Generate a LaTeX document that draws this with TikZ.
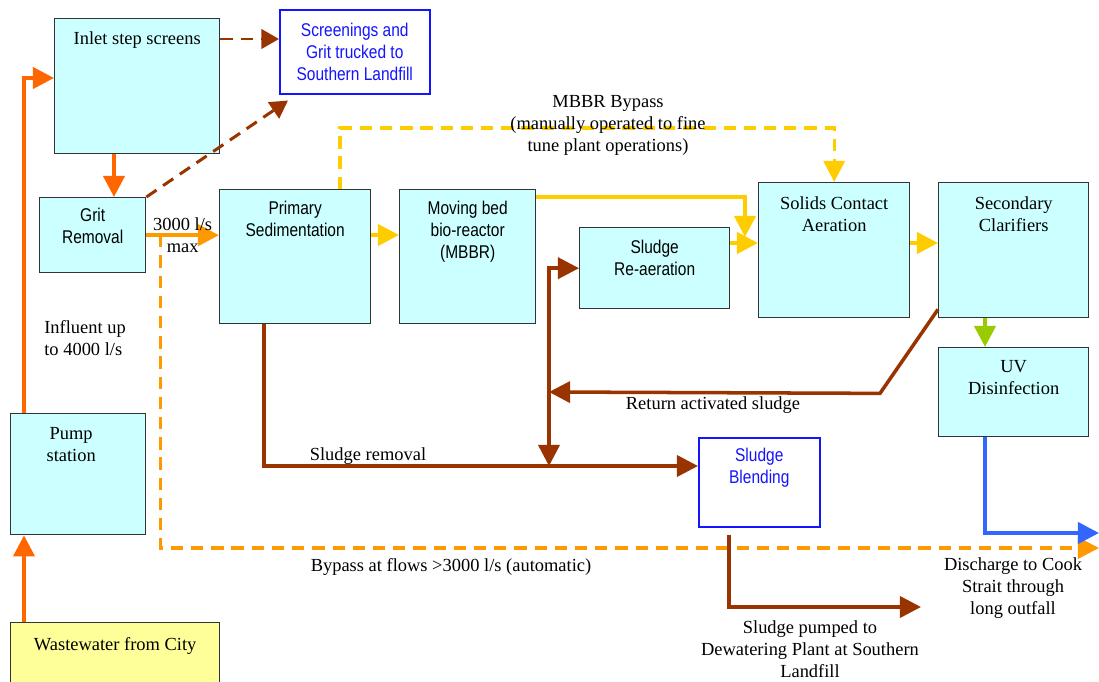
\documentclass[tikz,border=0pt]{standalone}
\usepackage{fontspec}
\setmainfont{Liberation Serif}
\newfontfamily\narrowsf[FakeStretch=0.84]{Liberation Sans}
\usetikzlibrary{arrows.meta, positioning, calc}
\definecolor{boxcyan}{RGB}{204, 255, 255}
\definecolor{cityyellow}{RGB}{255, 255, 153}
\definecolor{pumporange}{RGB}{255, 102, 0}
\definecolor{flowamber}{RGB}{255, 153, 0}
\definecolor{mbbryellow}{RGB}{255, 204, 0}
\definecolor{sludgebrown}{RGB}{153, 51, 0}
\definecolor{uvgreen}{RGB}{153, 204, 0}
\definecolor{outblue}{RGB}{51, 102, 255}
\definecolor{linkblue}{RGB}{20, 20, 255}

\begin{document}
\begin{tikzpicture}[
        x=0.02cm, y=-0.02cm,
        box/.style={rectangle, draw=black!80, fill=boxcyan, line width=0.8pt, anchor=north west, inner sep=0pt},
        outbox/.style={rectangle, draw=linkblue, fill=white, line width=0.9pt, anchor=north west, inner sep=0pt, text=linkblue, font=\narrowsf\fontsize{10.5}{12.5}\selectfont, align=center},
        serif/.style={font=\fontsize{10.5}{12.5}\selectfont, align=center, inner sep=0pt},
        sans/.style={font=\narrowsf\fontsize{10.5}{12.5}\selectfont, align=center, inner sep=0pt},
        tip/.style={-{Triangle[length=12pt, width=12pt]}},
        orflow/.style={tip, draw=pumporange, line width=2.3pt},
        amberflow/.style={tip, draw=flowamber, line width=2.3pt},
        bypass/.style={tip, draw=flowamber, line width=1.8pt, dash pattern=on 7pt off 4.5pt},
        yelflow/.style={tip, draw=mbbryellow, line width=2.3pt},
        yeldash/.style={tip, draw=mbbryellow, line width=1.8pt, dash pattern=on 7pt off 4.5pt},
        brownflow/.style={tip, draw=sludgebrown, line width=2pt},
        browndash/.style={-{Triangle[length=10pt, width=11pt]}, draw=sludgebrown, line width=1.7pt, dash pattern=on 7pt off 4.5pt},
        greenflow/.style={tip, draw=uvgreen, line width=2.3pt},
        blueflow/.style={tip, draw=outblue, line width=2.3pt}
    ]
        \useasboundingbox (0,0) rectangle (1099,682);

        % boxes
        \node[box, minimum width=3.3cm, minimum height=2.7cm] (inlet) at (54,18) {};
        \node[outbox, minimum width=3cm, minimum height=1.68cm] (screen) at (279,9) {Screenings and\\Grit trucked to\\Southern Landfill};
        \node[box, minimum width=2.12cm, minimum height=1.5cm] (grit) at (39,197) {};
        \node[box, minimum width=3.02cm, minimum height=2.68cm] (prim) at (219,189) {};
        \node[box, minimum width=2.72cm, minimum height=2.68cm] (mbbr) at (399,189) {};
        \node[box, minimum width=3cm, minimum height=1.62cm] (reaer) at (579,227) {};
        \node[box, minimum width=3.02cm, minimum height=2.7cm] (solids) at (758,182) {};
        \node[box, minimum width=3cm, minimum height=2.7cm] (sec) at (938,182) {};
        \node[box, minimum width=3cm, minimum height=1.78cm] (uv) at (938,347) {};
        \node[box, minimum width=2.7cm, minimum height=2.42cm] (pump) at (10,413) {};
        \node[box, fill=cityyellow, minimum width=4.18cm, minimum height=1.3cm] (city) at (10,622) {};
        \node[outbox, minimum width=2.42cm, minimum height=1.78cm] (blend) at (698,437) {};

        % box texts
        \node[serif, below=0.27cm of inlet.north] (inlet-t) {Inlet step screens};
        \node[sans, below=0.22cm of grit.north] (grit-t) {Grit\\Removal};
        \node[sans, below=0.24cm of prim.north] (prim-t) {Primary\\Sedimentation};
        \node[sans, below=0.24cm of mbbr.north] (mbbr-t) {Moving bed\\bio-reactor\\(MBBR)};
        \node[sans, below=0.26cm of reaer.north] (reaer-t) {Sludge\\Re-aeration};
        \node[serif, below=0.29cm of solids.north] (solids-t) {Solids Contact\\Aeration};
        \node[serif, below=0.29cm of sec.north] (sec-t) {Secondary\\Clarifiers};
        \node[serif, below=0.26cm of uv.north] (uv-t) {UV\\Disinfection};
        \node[serif, below=0.28cm of pump.north, xshift=-0.14cm] (pump-t) {Pump\\station};
        \node[serif, below=0.3cm of city.north] (city-t) {Wastewater from City};
        \node[sans, text=linkblue, below=0.22cm of blend.north] (blend-t) {Sludge\\Blending};

        % free ends
        \coordinate (mix) at (745,237);
        \coordinate (ras) at (549,392);
        \coordinate (bypassend) at (1099,548);
        \coordinate (outfall) at (1099,533);
        \coordinate (dewater) at (921,607);
        \coordinate (sr) at ($(blend.north west)+(0,29)$);

        % liquid stream
        \draw[orflow] ($(city.north west)+(14,0)$) coordinate (c0) -- (c0 |- pump.south);
        \draw[orflow] ($(pump.north west)+(14,0)$) |- ($(inlet.north west)+(0,60)$);
        \draw[orflow] ($(inlet.south west)+(60,0)$) coordinate (i0) -- (i0 |- grit.north);
        \draw[browndash] ($(inlet.north east)+(0,21)$) coordinate (i1) -- (i1 -| screen.west);
        \draw[browndash] (grit.north east) -- ($(screen.south west)+(9,6)$);
        \draw[bypass] ($(grit.east)+(14,0)$) |- (bypassend);
        \draw[amberflow] (grit.east) -- node[serif] (cap-t) {3000 l/s\\max} (grit.east -| prim.west);
        \draw[yelflow] ($(prim.north east)+(0,46)$) coordinate (p0) -- (p0 -| mbbr.west);
        \draw[yeldash] ($(prim.north west)+(121,0)$) -- ++(0,-61) -| (solids.north);
        \draw[yelflow] ($(mbbr.north east)+(0,8)$) -| (mix);
        \draw[yelflow] ($(reaer.north east)+(0,16)$) coordinate (r0) -- (r0 -| solids.west);
        \draw[yelflow] ($(solids.north east)+(0,61)$) coordinate (s0) -- (s0 -| sec.west);
        \draw[greenflow] ($(sec.south west)+(47,0)$) coordinate (g0) -- (g0 |- uv.north);
        \draw[blueflow] ($(uv.south west)+(47,0)$) |- (outfall);

        % sludge lines
        \draw[brownflow] ($(sec.south west)+(0,-9)$) -- ++(-58,84) -- (ras);
        \draw[brownflow] ($(prim.south west)+(45,0)$) |- (sr);
        \draw[brownflow, {Triangle[length=12pt, width=12pt]}-{Triangle[length=12pt, width=12pt]}] (ras |- sr) -- (ras |- reaer.west) -- (reaer.west);
        \draw[brownflow] ($(blend.south west)+(31,7)$) |- (dewater);

        % labels
        \node[serif, align=left, anchor=west] (influent-t) at (44,338) {Influent up\\to 4000 l/s};
        \node[serif] (mbbrby-t) at (608,125) {MBBR Bypass\\(manually operated to fine\\tune plant operations)};
        \node[serif] (ras-t) at (713,405) {Return activated sludge};
        \node[serif] (sr-t) at (368,456) {Sludge removal};
        \node[serif] (bypass-t) at (451,567) {Bypass at flows >3000 l/s (automatic)};
        \node[serif] (outfall-t) at (1013,588) {Discharge to Cook\\Strait through\\long outfall};
        \node[serif] (dewater-t) at (810,649) {Sludge pumped to\\Dewatering Plant at Southern\\Landfill};
    \end{tikzpicture}
\end{document}
